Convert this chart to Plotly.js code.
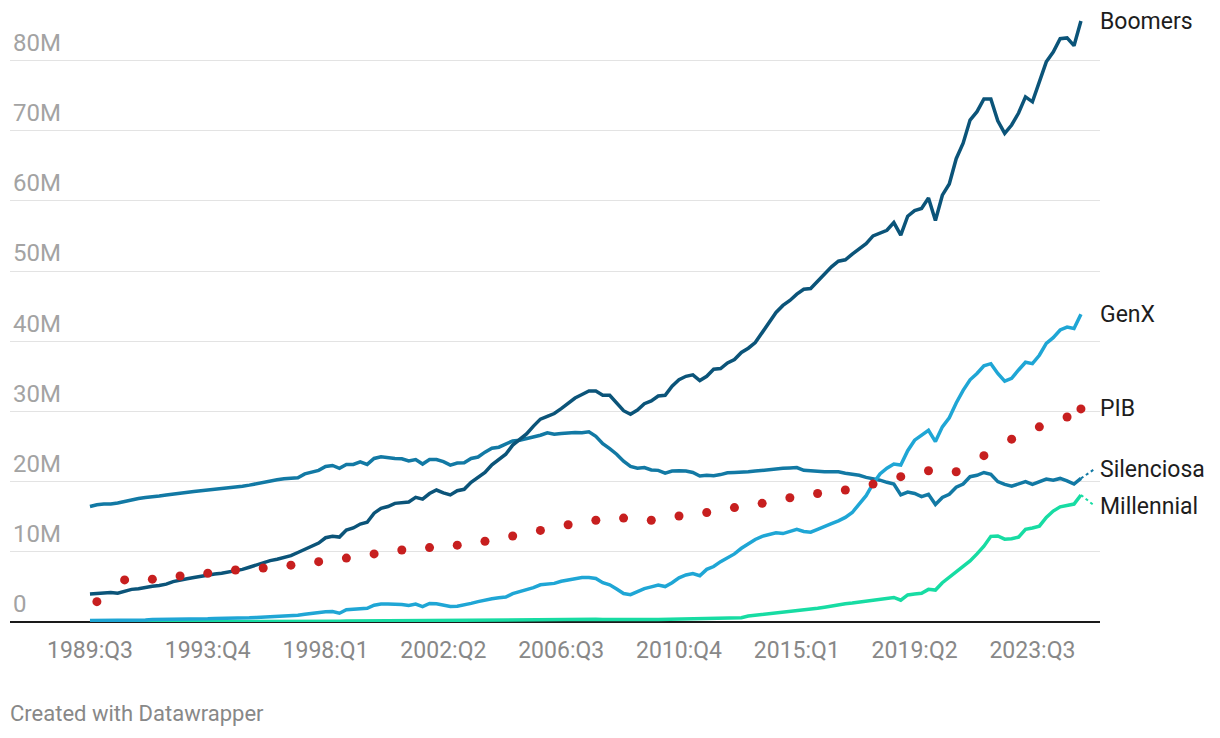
<!DOCTYPE html>
<html>
<head>
<meta charset="utf-8">
<script src="https://cdn.plot.ly/plotly-3.0.1.min.js"></script>
<style>
html,body{margin:0;padding:0;background:#fff;}
#chart{width:1220px;height:738px;}
</style>
</head>
<body>
<div id="chart"></div>
<script>
// Quarterly categories 1989:Q3 .. 2025:Q2
const firstYear = 1989, firstQuarter = 3, nQuarters = 144;
const quarters = [];
for (let k = 0; k < nQuarters; k++) {
  const q = firstQuarter - 1 + k;
  quarters.push((firstYear + Math.floor(q / 4)) + ':Q' + (q % 4 + 1));
}

const tickLabels = ['1989:Q3','1993:Q4','1998:Q1','2002:Q2','2006:Q3','2010:Q4','2015:Q1','2019:Q2','2023:Q3'];
const yTickVals = [0,10,20,30,40,50,60,70,80];
const yTickText = ['0','10M','20M','30M','40M','50M','60M','70M','80M'];

const boomers = [
  4.0, 4.1, 4.15, 4.2, 4.1, 4.4, 4.65, 4.75, 4.95, 5.1,
  5.2, 5.4, 5.75, 6.0, 6.15, 6.35, 6.55, 6.7, 6.85, 6.95,
  7.1, 7.25, 7.5, 7.8, 8.15, 8.45, 8.75, 8.95, 9.15, 9.45,
  9.9, 10.35, 10.85, 11.25, 12.0, 12.2, 12.1, 13.1, 13.4, 13.95,
  14.2, 15.5, 16.2, 16.45, 16.9, 16.95, 17.1, 17.75, 17.5, 18.3,
  18.8, 18.4, 18.1, 18.7, 18.9, 19.9, 20.6, 21.3, 22.4, 23.2,
  23.9, 25.2, 26.0, 26.8, 27.9, 28.9, 29.3, 29.7, 30.4, 31.2,
  31.9, 32.4, 32.9, 32.9, 32.3, 32.3, 31.2, 30.1, 29.6, 30.2,
  31.1, 31.5, 32.2, 32.3, 33.6, 34.5, 35.0, 35.2, 34.4, 35.0,
  36.0, 36.1, 36.9, 37.4, 38.4, 39.0, 39.8, 41.3, 42.6, 44.1,
  45.1, 45.8, 46.7, 47.4, 47.5, 48.5, 49.6, 50.6, 51.4, 51.6,
  52.4, 53.1, 53.9, 55.0, 55.4, 55.8, 56.9, 55.1, 57.8, 58.6,
  58.9, 60.4, 57.2, 60.8, 62.4, 66.0, 68.2, 71.5, 72.7, 74.5,
  74.5, 71.4, 69.6, 70.8, 72.5, 74.8, 74.1, 76.8, 79.8, 81.2,
  83.1, 83.2, 82.1, 85.6
];

const silenciosa = [
  16.45, 16.7, 16.8, 16.8, 16.95, 17.2, 17.35, 17.6, 17.75, 17.8,
  17.95, 18.1, 18.25, 18.4, 18.5, 18.6, 18.7, 18.8, 18.9, 18.95,
  19.05, 19.2, 19.35, 19.5, 19.7, 19.95, 20.1, 20.25, 20.4, 20.45,
  20.55, 21.1, 21.4, 21.6, 22.15, 22.3, 21.9, 22.45, 22.45, 22.8,
  22.45, 23.3, 23.55, 23.4, 23.3, 23.25, 22.95, 23.15, 22.5, 23.15,
  23.15, 22.85, 22.35, 22.65, 22.7, 23.3, 23.5, 24.2, 24.75, 24.9,
  25.4, 25.8, 25.9, 26.1, 26.35, 26.6, 26.95, 26.75, 26.85, 26.95,
  27.0, 26.95, 27.1, 26.45, 25.4, 24.7, 23.9, 22.9, 22.15, 21.9,
  22.0, 21.65, 21.6, 21.2, 21.5, 21.55, 21.5, 21.3, 20.8, 20.9,
  20.85, 21.0, 21.25, 21.3, 21.3, 21.4, 21.5, 21.6, 21.75, 21.9,
  21.9, 21.95, 22.0, 21.6, 21.5, 21.4, 21.4, 21.4, 21.4, 21.2,
  21.05, 20.9, 20.6, 20.45, 20.2, 19.9, 19.65, 18.1, 18.5, 18.3,
  17.85, 18.2, 16.75, 17.75, 18.2, 19.2, 19.65, 20.7, 20.9, 21.3,
  21.05, 20.0, 19.6, 19.35, 19.65, 20.0, 19.6, 20.0, 20.35, 20.2,
  20.45, 20.1, 19.65, 20.45
];

const genx = [
  0.2, 0.2, 0.2, 0.25, 0.25, 0.25, 0.3, 0.3, 0.3, 0.35,
  0.35, 0.35, 0.4, 0.4, 0.4, 0.45, 0.45, 0.45, 0.5, 0.5,
  0.5, 0.5, 0.55, 0.6, 0.65, 0.7, 0.7, 0.75, 0.8, 0.85,
  0.95, 1.1, 1.25, 1.3, 1.45, 1.5, 1.25, 1.75, 1.85, 1.95,
  1.95, 2.4, 2.55, 2.55, 2.55, 2.5, 2.35, 2.55, 2.2, 2.65,
  2.6, 2.45, 2.2, 2.25, 2.4, 2.65, 2.9, 3.15, 3.3, 3.45,
  3.55, 4.05, 4.3, 4.6, 4.9, 5.3, 5.4, 5.5, 5.8, 6.0,
  6.2, 6.35, 6.35, 6.2, 5.6, 5.3, 4.7, 4.05, 3.9, 4.3,
  4.75, 5.0, 5.25, 5.05, 5.6, 6.3, 6.7, 6.9, 6.6, 7.5,
  7.9, 8.6, 9.2, 9.7, 10.5, 11.2, 11.75, 12.2, 12.5, 12.7,
  12.6, 12.95, 13.2, 12.9, 12.8, 13.2, 13.55, 14.0, 14.4, 14.9,
  15.6, 16.8, 18.0, 19.7, 21.1, 21.9, 22.5, 22.35, 24.4, 25.9,
  26.6, 27.3, 25.7, 27.8, 29.1, 31.2, 33.0, 34.5, 35.4, 36.5,
  36.8, 35.4, 34.3, 34.7, 35.9, 37.0, 36.8, 38.0, 39.7, 40.5,
  41.6, 42.0, 41.8, 43.85
];

const millennial = [
  0, 0, 0, 0, 0, 0, 0, 0, 0, 0,
  0, 0, 0, 0, 0, 0, 0, 0, 0, 0,
  0.02, 0.03, 0.03, 0.04, 0.05, 0.05, 0.06, 0.07, 0.08, 0.08,
  0.09, 0.1, 0.1, 0.11, 0.12, 0.12, 0.12, 0.13, 0.14, 0.14,
  0.15, 0.15, 0.16, 0.17, 0.17, 0.18, 0.18, 0.19, 0.19, 0.2,
  0.2, 0.21, 0.21, 0.22, 0.23, 0.24, 0.25, 0.26, 0.27, 0.28,
  0.29, 0.3, 0.31, 0.32, 0.33, 0.34, 0.35, 0.36, 0.37, 0.38,
  0.38, 0.39, 0.4, 0.39, 0.37, 0.35, 0.34, 0.33, 0.33, 0.33,
  0.34, 0.35, 0.36, 0.38, 0.4, 0.42, 0.43, 0.44, 0.42, 0.45,
  0.47, 0.48, 0.5, 0.52, 0.6, 0.85, 0.95, 1.05, 1.15, 1.3,
  1.4, 1.5, 1.6, 1.75, 1.85, 1.95, 2.1, 2.3, 2.45, 2.6,
  2.7, 2.85, 3.0, 3.15, 3.3, 3.4, 3.5, 3.1, 3.85, 4.0,
  4.1, 4.65, 4.55, 5.6, 6.35, 7.1, 7.9, 8.7, 9.7, 10.8,
  12.2, 12.25, 11.8, 11.85, 12.1, 13.2, 13.4, 13.65, 14.9, 15.8,
  16.4, 16.6, 16.8, 18.1
];

const pibQuarters = [
  '1989:Q4','1990:Q4','1991:Q4','1992:Q4','1993:Q4','1994:Q4','1995:Q4','1996:Q4','1997:Q4','1998:Q4',
  '1999:Q4','2000:Q4','2001:Q4','2002:Q4','2003:Q4','2004:Q4','2005:Q4','2006:Q4','2007:Q4','2008:Q4',
  '2009:Q4','2010:Q4','2011:Q4','2012:Q4','2013:Q4','2014:Q4','2015:Q4','2016:Q4','2017:Q4','2018:Q4',
  '2019:Q4','2020:Q4','2021:Q4','2022:Q4','2023:Q4','2024:Q4','2025:Q2'
];
const pib = [
  2.9, 6.0, 6.1, 6.55, 6.95, 7.4, 7.7, 8.1, 8.6, 9.1,
  9.7, 10.25, 10.6, 10.95, 11.5, 12.25, 13.05, 13.85, 14.5, 14.8,
  14.5, 15.1, 15.6, 16.3, 16.9, 17.7, 18.3, 18.8, 19.65, 20.7,
  21.55, 21.4, 23.7, 26.05, 27.8, 29.2, 30.35
];

const colors = {
  boomers: '#0b5479',
  silenciosa: '#1279a4',
  genx: '#1fa6d5',
  millennial: '#17dca3',
  pib: '#c71f1f'
};

const FONT = 'Roboto, "Open Sans", Arial, sans-serif';
const last = arr => arr[arr.length - 1];
const lastIdx = nQuarters - 1;

const lineTrace = (name, y, color) => ({
  type: 'scatter', mode: 'lines', name: name,
  x: quarters, y: y,
  line: {color: color, width: 3.5},
  hoverinfo: 'skip'
});

const data = [
  lineTrace('Silenciosa', silenciosa, colors.silenciosa),
  lineTrace('Millennial', millennial, colors.millennial),
  lineTrace('GenX', genx, colors.genx),
  lineTrace('Boomers', boomers, colors.boomers),
  {
    type: 'scatter', mode: 'markers', name: 'PIB',
    x: pibQuarters, y: pib,
    marker: {color: colors.pib, size: 9},
    hoverinfo: 'skip'
  }
];

const labelFont = {family: FONT, size: 23, color: '#1d1d1d'};
const endLabel = (text, yv) => ({
  text: text, xref: 'paper', x: 1, xanchor: 'left', xshift: -2,
  yref: 'y', y: yv, yanchor: 'middle',
  showarrow: false, font: labelFont
});

const silLabelY = last(silenciosa) + 1.3;
const milLabelY = last(millennial) - 1.6;

const layout = {
  width: 1220, height: 738,
  margin: {l: 10, r: 120, t: 10, b: 116},
  paper_bgcolor: '#fff', plot_bgcolor: '#fff',
  showlegend: false,
  hovermode: false,
  font: {family: FONT},
  xaxis: {
    type: 'category',
    categoryorder: 'array', categoryarray: quarters,
    range: [-11.54, 145.75],
    tickvals: tickLabels, ticktext: tickLabels,
    showgrid: false, showline: false, zeroline: false,
    ticks: 'outside', ticklen: 7, tickcolor: 'rgba(0,0,0,0)',
    tickfont: {family: FONT, size: 23, color: '#888888'},
    fixedrange: true
  },
  yaxis: {
    range: [0, 87.18],
    tickvals: yTickVals, ticktext: yTickText,
    ticklabelposition: 'inside',
    ticklabelshift: -18,
    ticks: '',
    showgrid: true, gridcolor: '#e3e3e3', gridwidth: 1,
    zeroline: true, zerolinecolor: '#1a1a1a', zerolinewidth: 2,
    showline: false,
    tickfont: {family: FONT, size: 24, color: '#a3a3a3'},
    fixedrange: true
  },
  shapes: [
    {type: 'line', xref: 'x', yref: 'y', x0: lastIdx, y0: last(silenciosa), x1: lastIdx + 1.9, y1: silLabelY,
     line: {color: colors.silenciosa, width: 2, dash: 'dot'}},
    {type: 'line', xref: 'x', yref: 'y', x0: lastIdx, y0: last(millennial), x1: lastIdx + 1.9, y1: milLabelY + 0.1,
     line: {color: colors.millennial, width: 2, dash: 'dot'}}
  ],
  annotations: [
    endLabel('Boomers', last(boomers)),
    endLabel('GenX', last(genx)),
    endLabel('PIB', last(pib)),
    endLabel('Silenciosa', silLabelY),
    endLabel('Millennial', milLabelY),
    {
      text: 'Created with Datawrapper', xref: 'paper', x: 0, xanchor: 'left', xshift: -2,
      yref: 'paper', y: -0.1487, yanchor: 'middle',
      showarrow: false, font: {family: FONT, size: 22, color: '#888888'}
    }
  ]
};

Plotly.newPlot('chart', data, layout, {displayModeBar: false, staticPlot: true});
</script>
</body>
</html>
